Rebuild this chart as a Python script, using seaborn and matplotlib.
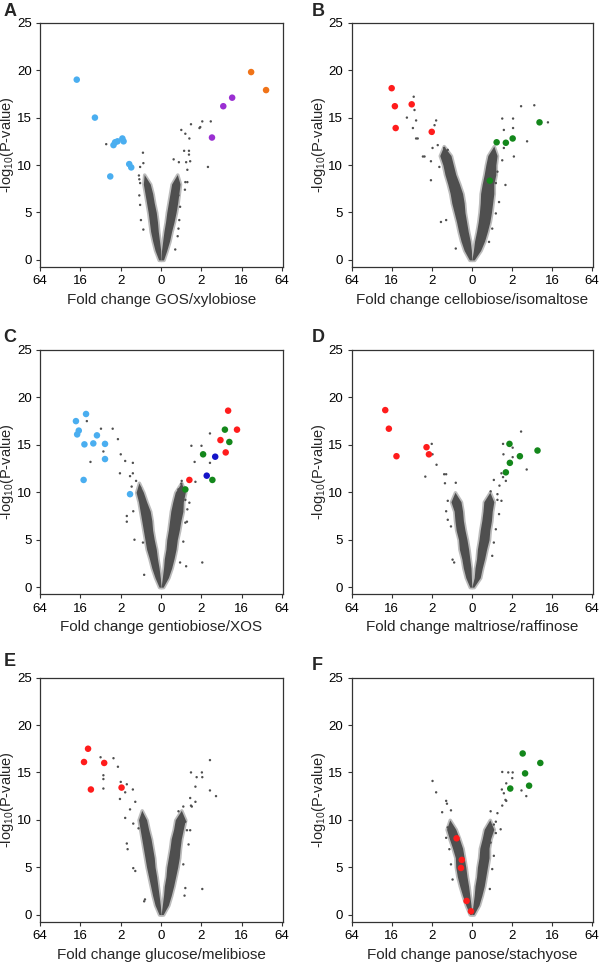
import matplotlib
matplotlib.use('Agg')
import matplotlib.pyplot as plt
import seaborn as sns

# x is measured in tick steps: -3..3 <-> 64,16,2,0,2,16,64
tick_pos = [-3, -2, -1, 0, 1, 2, 3]
tick_labels = ["64", "16", "2", "0", "2", "16", "64"]

# ---- panel A: GOS/xylobiose
A_level = [0, 1, 2, 3, 4, 5, 6, 7, 8, 9]
A_left_out = [-0.06, -0.15, -0.21, -0.26, -0.29, -0.32, -0.36, -0.40, -0.44, -0.42]
A_left_in = [0, -0.01, -0.04, -0.07, -0.09, -0.12, -0.17, -0.21, -0.27, -0.42]
A_right_in = [0, 0.01, 0.04, 0.07, 0.11, 0.14, 0.18, 0.22, 0.26, 0.40]
A_right_out = [0.06, 0.14, 0.21, 0.26, 0.32, 0.37, 0.41, 0.44, 0.47, 0.40]
A_grey_x = [-1.36, -0.45, -0.44, -0.52, -0.55, -0.54, -0.52, -0.54, -0.52, -0.50, -0.44,
            0.50, 0.60, 0.74, 0.97, 1.02, 0.70, 0.57, 0.69, 0.69, 0.31, 0.44, 0.62, 0.65,
            0.72, 1.16, 0.60, 0.59, 0.43, 1.23, 0.95, 0.43, 0.47, 0.45, 0.41, 0.35, 0.65]
A_grey_y = [12.2, 11.3, 10.2, 9.8, 8.9, 8.5, 8.1, 6.8, 5.8, 4.2, 3.2,
            13.7, 13.3, 14.3, 14.0, 14.6, 12.8, 11.5, 11.5, 11.1, 10.6, 10.3, 10.3, 9.5,
            10.4, 9.8, 8.2, 7.4, 3.3, 14.6, 13.9, 6.8, 5.6, 4.2, 2.5, 1.1, 8.2]
A_hit_x = [-2.09, -1.64, -1.18, -1.14, -1.08, -0.96, -0.93, -1.26, -0.79, -0.74,
           1.26, 1.54, 1.76, 2.23, 2.60]
A_hit_y = [19.0, 15.0, 12.1, 12.4, 12.5, 12.8, 12.5, 8.8, 10.1, 9.75,
           12.9, 16.2, 17.1, 19.8, 17.9]
A_hit_group = ["skyblue"] * 10 + ["purple"] * 3 + ["orange"] * 2

# ---- panel B: cellobiose/isomaltose
B_level = [0, 1, 2, 3, 4, 5, 6, 7, 8, 9, 10, 11, 12]
B_left_out = [-0.06, -0.19, -0.27, -0.33, -0.38, -0.44, -0.50, -0.54, -0.60, -0.67, -0.72, -0.80, -0.70]
B_left_in = [0, -0.01, -0.04, -0.09, -0.13, -0.17, -0.19, -0.23, -0.31, -0.40, -0.46, -0.52, -0.70]
B_right_in = [0, 0.04, 0.07, 0.12, 0.16, 0.19, 0.21, 0.22, 0.26, 0.31, 0.35, 0.40, 0.55]
B_right_out = [0.06, 0.22, 0.32, 0.39, 0.45, 0.49, 0.52, 0.55, 0.55, 0.60, 0.60, 0.63, 0.55]
B_grey_x = [-1.62, -1.45, -1.43, -1.47, -1.39, -1.22, -0.99, -0.89, -0.93, -1.39, -1.35,
            -1.18, -1.02, -1.02, -0.98, -0.85, -0.69, -0.60, -0.81, -0.64, -0.77, -0.40,
            0.76, 1.03, 1.23, 1.56, 1.38, 1.03, 0.80, 1.05, 0.80, 0.76, 0.64, 0.60, 0.84,
            0.68, 0.60, 0.51, 0.43, 1.90]
B_grey_y = [15.0, 17.2, 15.8, 13.9, 12.8, 10.9, 13.3, 14.7, 14.2, 14.7, 12.8,
            10.9, 10.4, 8.4, 11.8, 12.1, 11.8, 11.6, 9.8, 4.2, 4.0, 1.2,
            14.9, 14.9, 16.2, 16.3, 12.5, 13.9, 13.7, 10.9, 11.8, 10.5, 9.3, 8.1, 7.9,
            6.1, 4.9, 3.3, 1.9, 14.5]
B_hit_x = [-2.0, -1.92, -1.90, -1.50, -1.0, 0.62, 0.85, 1.02, 1.69, 0.45]
B_hit_y = [18.1, 16.2, 13.9, 16.4, 13.5, 12.4, 12.35, 12.8, 14.5, 8.35]
B_hit_group = ["red"] * 5 + ["green"] * 5

# ---- panel C: gentiobiose/XOS
C_level = [0, 1, 2, 3, 4, 5, 6, 7, 8, 9, 10, 11]
C_left_out = [-0.05, -0.15, -0.23, -0.29, -0.36, -0.40, -0.44, -0.48, -0.52, -0.56, -0.62, -0.55]
C_left_in = [0, -0.02, -0.05, -0.09, -0.12, -0.17, -0.21, -0.23, -0.27, -0.36, -0.44, -0.55]
C_right_in = [0, 0.03, 0.06, 0.08, 0.12, 0.14, 0.18, 0.21, 0.24, 0.29, 0.35, 0.50]
C_right_out = [0.05, 0.18, 0.26, 0.32, 0.37, 0.40, 0.45, 0.49, 0.54, 0.55, 0.60, 0.50]
C_grey_x = [-1.84, -1.75, -1.43, -1.49, -1.40, -1.20, -1.07, -1.0, -0.89, -0.70, -0.70,
            -0.85, -0.85, -0.66, -0.42, -0.69, -0.62, -0.73, -0.52, -1.02, -0.77, -0.45,
            0.62, 1.02, 0.75, 1.0, 1.21, 0.83, 1.21, 0.85, 0.64, 0.70, 0.50, 0.51, 0.43,
            0.60, 0.65, 0.60, 0.55, 0.47]
C_grey_y = [17.5, 13.2, 14.3, 16.7, 13.4, 16.7, 15.6, 14.0, 13.3, 13.1, 12.0,
            7.5, 6.9, 5.0, 1.3, 8.0, 11.2, 10.6, 10.5, 12.0, 11.7, 4.7,
            2.2, 2.6, 14.9, 14.9, 16.2, 13.2, 13.1, 11.1, 6.9, 8.9, 10.9, 11.2, 10.3,
            9.2, 8.2, 6.8, 4.8, 2.6]
C_hit_x = [-2.11, -1.86, -2.04, -2.08, -1.90, -1.68, -1.59, -1.39, -1.39, -1.92, -0.77,
           1.66, 1.88, 1.47, 1.60, 0.70,
           1.58, 1.69, 1.04, 1.27, 0.60,
           1.34, 1.13]
C_hit_y = [17.5, 18.25, 16.5, 16.1, 15.05, 15.15, 16.0, 15.1, 13.5, 11.3, 9.8,
           18.6, 16.6, 15.5, 14.2, 11.3,
           16.6, 15.3, 14.0, 11.3, 10.3,
           13.75, 11.75]
C_hit_group = ["skyblue"] * 11 + ["red"] * 5 + ["green"] * 5 + ["blue"] * 2

# ---- panel D: maltriose/raffinose
D_level = [0, 1, 2, 3, 4, 5, 6, 7, 8, 9, 10]
D_left_out = [-0.05, -0.15, -0.21, -0.25, -0.31, -0.33, -0.39, -0.42, -0.44, -0.52, -0.42]
D_left_in = [0, -0.01, -0.02, -0.05, -0.08, -0.12, -0.17, -0.21, -0.23, -0.27, -0.42]
D_right_in = [0, 0.06, 0.08, 0.12, 0.14, 0.18, 0.21, 0.25, 0.28, 0.30, 0.45]
D_right_out = [0.05, 0.21, 0.26, 0.32, 0.37, 0.43, 0.45, 0.49, 0.51, 0.55, 0.45]
D_grey_x = [-1.0, -0.98, -1.16, -0.88, -0.64, -0.67, -0.40, -0.69, -0.60, -0.64, -0.60,
            -0.52, -0.48, -0.44,
            0.78, 0.79, 0.85, 0.78, 1.02, 1.02, 1.23, 1.37, 0.69, 0.64, 0.55, 0.47,
            0.64, 0.74, 0.68, 0.60, 0.55, 0.51, 0.74]
D_grey_y = [15.1, 14.0, 11.65, 12.9, 11.9, 10.95, 11.0, 11.9, 9.1, 8.0, 7.1,
            6.4, 2.9, 2.6,
            15.1, 14.0, 11.2, 11.6, 14.7, 13.7, 16.4, 12.4, 10.7, 9.8, 11.3, 10.1,
            9.2, 9.1, 7.7, 6.1, 4.7, 3.3, 12.0]
D_hit_x = [-2.16, -2.07, -1.88, -1.13, -1.07, 0.94, 0.95, 0.85, 1.20, 1.64]
D_hit_y = [18.66, 16.7, 13.8, 14.75, 14.0, 15.1, 13.1, 12.1, 13.8, 14.4]
D_hit_group = ["red"] * 5 + ["green"] * 5

# ---- panel E: glucose/melibiose
E_level = [0, 1, 2, 3, 4, 5, 6, 7, 8, 9, 10, 11]
E_left_out = [-0.05, -0.15, -0.21, -0.26, -0.31, -0.36, -0.40, -0.44, -0.48, -0.52, -0.56, -0.48]
E_left_in = [0, -0.02, -0.05, -0.08, -0.11, -0.15, -0.17, -0.21, -0.25, -0.31, -0.36, -0.48]
E_right_in = [0, 0.03, 0.06, 0.08, 0.12, 0.14, 0.18, 0.22, 0.25, 0.31, 0.35, 0.50]
E_right_out = [0.05, 0.18, 0.25, 0.31, 0.36, 0.41, 0.45, 0.47, 0.50, 0.55, 0.60, 0.50]
E_grey_x = [-1.50, -1.18, -1.07, -1.43, -1.43, -1.43, -1.0, -0.85, -1.02, -0.89, -0.70,
            -0.85, -0.83, -0.69, -0.42, -0.89, -0.77, -0.64, -0.69, -0.56, -0.64, -0.40,
            0.74, 0.85, 0.88, 1.01, 1.02, 1.21, 1.21, 1.36, 0.74, 0.85, 0.64, 1.02, 0.58,
            0.55, 0.43, 0.60, 0.72, 0.68, 0.55, 0.60, 0.72, 0.76]
E_grey_y = [16.6, 16.5, 15.6, 14.7, 14.3, 13.3, 14.0, 13.75, 12.2, 12.9, 13.2,
            7.5, 6.9, 4.9, 1.4, 10.2, 11.1, 11.9, 9.6, 9.1, 4.6, 1.6,
            15.0, 13.5, 14.5, 15.0, 14.5, 16.3, 13.1, 12.5, 11.5, 11.9, 8.9, 2.7, 2.0,
            11.4, 10.9, 9.8, 8.9, 7.4, 5.3, 2.8, 12.3, 11.4]
E_hit_x = [-1.81, -1.91, -1.41, -1.74, -0.98]
E_hit_y = [17.5, 16.1, 16.0, 13.2, 13.4]
E_hit_group = ["red"] * 5

# ---- panel F: panose/stachyose
F_level = [0, 1, 2, 3, 4, 5, 6, 7, 8, 9, 10]
F_left_out = [-0.05, -0.15, -0.23, -0.30, -0.36, -0.40, -0.41, -0.48, -0.56, -0.63, -0.55]
F_left_in = [0, -0.02, -0.05, -0.08, -0.12, -0.15, -0.19, -0.23, -0.31, -0.40, -0.55]
F_right_in = [0, 0.03, 0.06, 0.08, 0.12, 0.14, 0.18, 0.20, 0.26, 0.31, 0.45]
F_right_out = [0.05, 0.18, 0.25, 0.31, 0.35, 0.39, 0.43, 0.43, 0.47, 0.55, 0.45]
F_grey_x = [-0.98, -0.89, -0.64, -0.62, -0.74, -0.52, -0.60, -0.64, -0.56, -0.52, -0.48,
            0.76, 0.75, 0.86, 0.91, 1.01, 1.02, 1.24, 1.36, 0.84, 0.76, 0.60, 0.64,
            0.47, 0.55, 0.60, 0.72, 0.47, 0.55, 0.51, 0.45, 0.80, 0.86]
F_grey_y = [14.1, 12.9, 12.0, 11.7, 10.8, 11.0, 9.2, 8.1, 6.9, 5.3, 3.7,
            15.05, 13.2, 13.85, 15.0, 14.4, 15.0, 13.1, 12.5, 12.1, 11.5, 9.8, 10.7,
            10.9, 9.5, 8.6, 9.0, 7.6, 6.2, 4.8, 2.7, 12.8, 12.0]
F_hit_x = [-0.38, -0.25, -0.27, -0.13, -0.02, 1.27, 1.71, 1.33, 1.43, 0.96]
F_hit_y = [8.05, 5.77, 4.92, 1.44, 0.35, 17.0, 16.0, 14.9, 13.6, 13.3]
F_hit_group = ["red"] * 5 + ["green"] * 5

hit_colors = {"skyblue": "#4aaef0", "purple": "#9a2fd2", "orange": "#f07318",
              "red": "#ff1c1c", "green": "#13871b", "blue": "#1414c8"}

panels = [
    ("A", "Fold change GOS/xylobiose", A_level, A_left_out, A_left_in, A_right_in, A_right_out,
     A_grey_x, A_grey_y, A_hit_x, A_hit_y, A_hit_group),
    ("B", "Fold change cellobiose/isomaltose", B_level, B_left_out, B_left_in, B_right_in, B_right_out,
     B_grey_x, B_grey_y, B_hit_x, B_hit_y, B_hit_group),
    ("C", "Fold change gentiobiose/XOS", C_level, C_left_out, C_left_in, C_right_in, C_right_out,
     C_grey_x, C_grey_y, C_hit_x, C_hit_y, C_hit_group),
    ("D", "Fold change maltriose/raffinose", D_level, D_left_out, D_left_in, D_right_in, D_right_out,
     D_grey_x, D_grey_y, D_hit_x, D_hit_y, D_hit_group),
    ("E", "Fold change glucose/melibiose", E_level, E_left_out, E_left_in, E_right_in, E_right_out,
     E_grey_x, E_grey_y, E_hit_x, E_hit_y, E_hit_group),
    ("F", "Fold change panose/stachyose", F_level, F_left_out, F_left_in, F_right_in, F_right_out,
     F_grey_x, F_grey_y, F_hit_x, F_hit_y, F_hit_group),
]

sns.set_theme(style="ticks")
plt.rcParams['font.family'] = ['Liberation Sans', 'DejaVu Sans']
plt.rcParams['mathtext.default'] = 'regular'

fig = plt.figure(figsize=(6.0, 9.63), dpi=100)

# axes boxes in figure fractions (left, bottom, width, height)
boxes = [
    (0.0667, 0.7227, 0.405, 0.2537), (0.586, 0.7227, 0.402, 0.2537),
    (0.0667, 0.3829, 0.405, 0.2537), (0.586, 0.3829, 0.402, 0.2537),
    (0.0667, 0.0429, 0.405, 0.2534), (0.586, 0.0429, 0.402, 0.2534),
]
letter_pos = [(0.006, 0.997), (0.52, 0.997), (0.006, 0.658), (0.52, 0.658),
              (0.006, 0.322), (0.52, 0.318)]
grey = "#4f4f4f"
halo = "#bcbcbc"

for i, p in enumerate(panels):
    (letter, xlabel, lev, lo, li, ri, ro, gx, gy, hx, hy, hg) = p
    ax = fig.add_axes(boxes[i])
    # speckled fringe, then the dense core of both arms
    for a, b in [(lo, li), (ri, ro)]:
        ax.fill_betweenx(lev, a, b, color=halo, lw=2.5, edgecolor=halo, zorder=1)
        ax.fill_betweenx(lev, a, b, color=grey, lw=0, zorder=1.5)
    sns.scatterplot(x=gx, y=gy, ax=ax, color=grey, s=3, edgecolor="none", zorder=2)
    sns.scatterplot(x=hx, y=hy, hue=hg, palette=hit_colors, ax=ax, s=22,
                    edgecolor="none", legend=False, zorder=3)
    ax.set_xlim(-3, 3.02)
    ax.set_ylim(-0.75, 25)
    ax.set_xticks(tick_pos)
    ax.set_xticklabels(tick_labels)
    ax.set_yticks([0, 5, 10, 15, 20, 25])
    ax.tick_params(labelsize=9.5, length=3, width=0.8, colors="#333333", labelcolor="black", pad=3)
    for s in ax.spines.values():
        s.set_color("#333333")
        s.set_linewidth(0.9)
    ax.set_xlabel(xlabel, fontsize=11, labelpad=4)
    ax.set_ylabel("-log$_{10}$(P-value)", fontsize=10.5)
    ax.yaxis.set_label_coords(-0.097, 0.5)
    fig.text(letter_pos[i][0], letter_pos[i][1], letter, fontsize=13, fontweight="bold",
             va="top", ha="left")

fig.savefig("out.png", dpi=100)
